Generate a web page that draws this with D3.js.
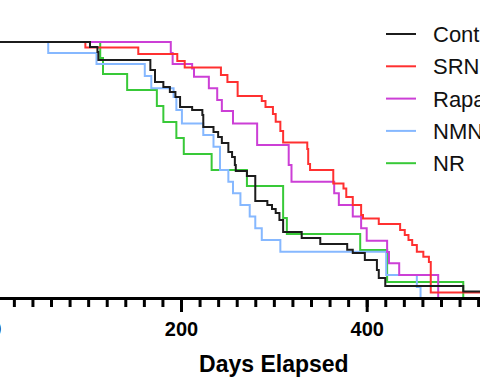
<!DOCTYPE html>
<html>
<head>
<meta charset="utf-8">
<script src="https://cdn.jsdelivr.net/npm/d3@7"></script>
<style>
  html, body { margin: 0; padding: 0; background: #fff; overflow: hidden; }
  svg { display: block; }
</style>
</head>
<body>
<svg id="chart" width="480" height="384"></svg>
<script>
// ---- Data ----
const categories = ["Control", "SRN-901", "Rapamycin", "NMN", "NR"];

const controlDays = [0, 102, 110, 111, 167, 172, 181, 188, 194, 199, 212, 223, 224, 235, 240, 244, 251, 255, 258, 259, 271, 280, 293, 298, 302, 306, 310, 330, 350, 379, 385, 398, 411, 413, 420, 504, 540];
const controlSurv = [1.0, 0.980, 0.961, 0.930, 0.891, 0.844, 0.824, 0.805, 0.785, 0.746, 0.734, 0.715, 0.668, 0.648, 0.629, 0.605, 0.570, 0.551, 0.520, 0.496, 0.477, 0.379, 0.363, 0.348, 0.332, 0.305, 0.258, 0.234, 0.211, 0.188, 0.176, 0.148, 0.109, 0.078, 0.047, 0.025, 0.025];

const srnDays = [0, 97, 154, 196, 204, 243, 250, 261, 287, 291, 299, 302, 307, 310, 336, 337, 339, 364, 375, 378, 385, 394, 396, 413, 436, 441, 445, 449, 454, 461, 467, 469, 540];
const srnSurv = [1.0, 0.979, 0.953, 0.926, 0.900, 0.871, 0.844, 0.789, 0.770, 0.746, 0.719, 0.688, 0.652, 0.607, 0.582, 0.523, 0.500, 0.447, 0.428, 0.395, 0.363, 0.324, 0.311, 0.289, 0.266, 0.246, 0.227, 0.207, 0.181, 0.161, 0.141, 0.021, 0.021];

const rapaDays = [0, 189, 191, 212, 214, 230, 239, 244, 256, 282, 316, 319, 365, 370, 385, 394, 400, 422, 424, 435, 477];
const rapaSurv = [1.0, 0.957, 0.914, 0.896, 0.864, 0.819, 0.773, 0.730, 0.682, 0.598, 0.520, 0.454, 0.409, 0.363, 0.318, 0.272, 0.224, 0.180, 0.136, 0.090, 0.0];

const nmnDays = [0, 57, 109, 161, 168, 192, 195, 201, 224, 235, 242, 251, 256, 264, 274, 280, 287, 307, 421, 454, 458];
const nmnSurv = [1.0, 0.957, 0.914, 0.867, 0.819, 0.785, 0.734, 0.682, 0.637, 0.591, 0.500, 0.454, 0.409, 0.363, 0.318, 0.272, 0.227, 0.181, 0.090, 0.043, 0.0];

const nrDays = [0, 113, 116, 142, 174, 181, 195, 203, 233, 271, 310, 314, 393, 422, 504];
const nrSurv = [1.0, 0.9375, 0.875, 0.8125, 0.75, 0.6875, 0.625, 0.5625, 0.5, 0.4375, 0.3125, 0.25, 0.1875, 0.0625, 0.0];

const majorTicks = [0, 200, 400];
const minorTicks = d3.range(0, 601, 20);
const xTitle = "Days Elapsed";

const colors = ["#1c1c1c", "#ff3030", "#cc3fd6", "#86b8ff", "#38c938"];

// ---- Build series ----
const series = [
  { name: categories[0], days: controlDays, surv: controlSurv, color: colors[0] },
  { name: categories[1], days: srnDays, surv: srnSurv, color: colors[1] },
  { name: categories[2], days: rapaDays, surv: rapaSurv, color: colors[2] },
  { name: categories[3], days: nmnDays, surv: nmnSurv, color: colors[3] },
  { name: categories[4], days: nrDays, surv: nrSurv, color: colors[4] }
];

const svg = d3.select("#chart");

const x = d3.scaleLinear().domain([0, 600]).range([-4.7, -4.7 + 600 * 0.9285]);
const y = d3.scaleLinear().domain([0, 1]).range([298, 42]);

// draw order: NR, NMN, Rapa, SRN, Control on top
const drawOrder = [4, 3, 2, 1, 0];
const line = d3.line()
  .x(d => x(d[0]))
  .y(d => y(d[1]))
  .curve(d3.curveStepAfter);

drawOrder.forEach(i => {
  const s = series[i];
  const pts = s.days.map((d, k) => [d, s.surv[k]]);
  svg.append("path")
    .attr("d", line(pts))
    .attr("fill", "none")
    .attr("stroke", s.color)
    .attr("stroke-width", 2)
    .attr("stroke-linejoin", "miter");
});

// ---- X axis ----
const axisG = svg.append("g").attr("transform", "translate(0,298)");
// minor ticks
const minorAxis = d3.axisBottom(x).tickValues(minorTicks).tickSize(9).tickSizeOuter(0).tickFormat("");
const minorG = axisG.append("g").call(minorAxis);
minorG.select(".domain").remove();
minorG.selectAll(".tick line").attr("stroke", "#000").attr("stroke-width", 3);

const majorAxis = d3.axisBottom(x).tickValues(majorTicks).tickSize(14).tickSizeOuter(0).tickPadding(10).tickFormat(d3.format("d"));
const majorG = axisG.append("g").call(majorAxis);
majorG.select(".domain").attr("stroke", "#000").attr("stroke-width", 3);
majorG.selectAll(".tick line").attr("stroke", "#000").attr("stroke-width", 3);
majorG.selectAll(".tick text")
  .attr("fill", "#000")
  .style("font-family", "'Liberation Sans', Arial, sans-serif")
  .style("font-weight", "bold")
  .style("font-size", "20px");

svg.append("text")
  .attr("x", (x.range()[0] + x.range()[1]) / 2)
  .attr("y", 372)
  .attr("text-anchor", "middle")
  .style("font-family", "'Liberation Sans', Arial, sans-serif")
  .style("font-weight", "bold")
  .style("font-size", "23px")
  .attr("fill", "#000")
  .text(xTitle);

// ---- Legend ----
const legend = svg.append("g").attr("transform", "translate(386,34)");
series.forEach((s, i) => {
  const g = legend.append("g").attr("transform", `translate(0,${i * 32.3})`);
  g.append("line").attr("x1", 0).attr("x2", 30).attr("y1", 0).attr("y2", 0)
    .attr("stroke", s.color).attr("stroke-width", 2);
  g.append("text").attr("x", 47).attr("y", 0).attr("dy", "0.36em")
    .style("font-family", "'Liberation Sans', Arial, sans-serif")
    .style("font-size", "22px")
    .attr("fill", "#111")
    .text(s.name);
});
</script>
</body>
</html>
